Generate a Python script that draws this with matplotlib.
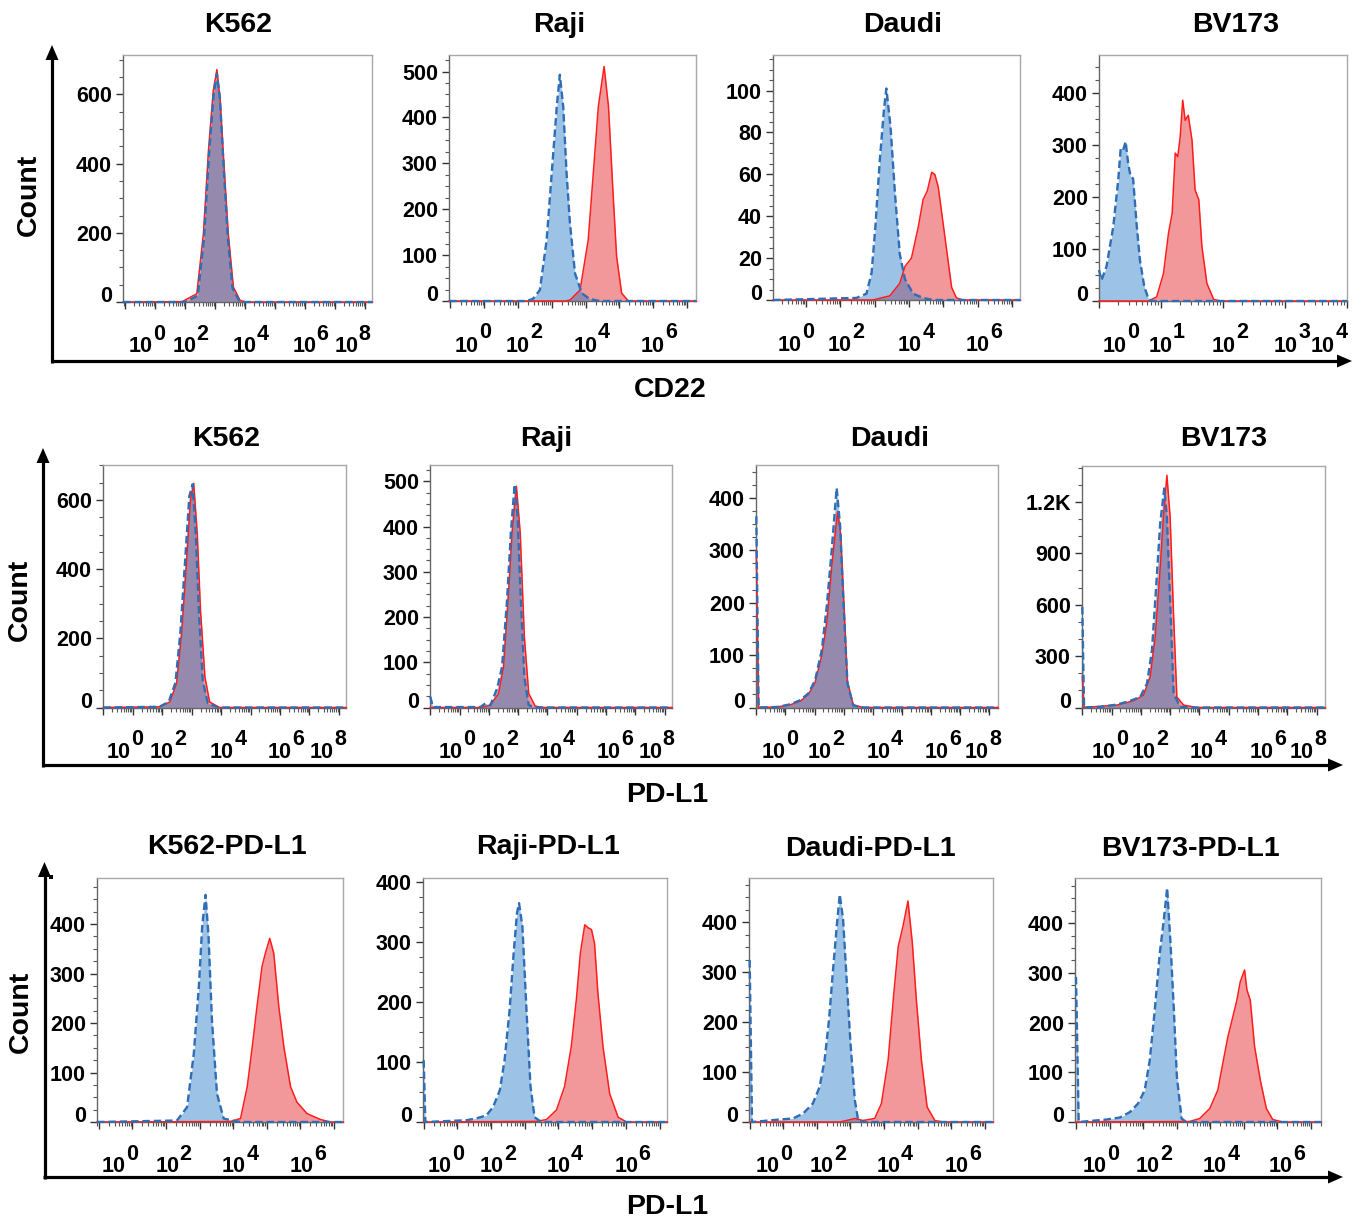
import numpy as np
import matplotlib
matplotlib.use("Agg")
import matplotlib.pyplot as plt
from matplotlib.ticker import FixedLocator, FixedFormatter, MultipleLocator
from matplotlib.patches import Polygon, Rectangle

plt.rcParams['font.family'] = ['Liberation Sans', 'DejaVu Sans']
plt.rcParams['font.weight'] = 'bold'

# ---------------- data (x = log10 fluorescence, y = count) ----------------
# Row 1 : CD22
R1_K562_CTRL_X = [-0.07, 2.0, 2.42, 2.63, 2.80, 2.95, 3.06, 3.16, 3.28, 3.42, 3.58, 3.80, 4.0, 8.23]
R1_K562_CTRL_Y = [0, 0, 18, 185, 430, 600, 660, 590, 400, 190, 40, 4, 0, 0]
R1_K562_STAIN_X = [-0.07, 1.9, 2.39, 2.61, 2.78, 2.94, 3.06, 3.17, 3.30, 3.44, 3.61, 3.83, 4.0, 8.23]
R1_K562_STAIN_Y = [0, 1, 24, 197, 439, 612, 672, 583, 390, 197, 43, 5, 0, 0]

R1_RAJI_CTRL_X = [-0.04, 2.27, 2.45, 2.65, 2.85, 3.0, 3.15, 3.24, 3.34, 3.44, 3.54, 3.69, 3.89, 4.13, 4.43, 7.27]
R1_RAJI_CTRL_Y = [0, 0, 5, 24, 133, 278, 424, 493, 424, 278, 169, 60, 17, 4, 0, 0]
R1_RAJI_STAIN_X = [-0.04, 3.4, 3.54, 3.84, 4.08, 4.23, 4.38, 4.55, 4.68, 4.81, 4.92, 5.07, 5.27, 7.27]
R1_RAJI_STAIN_Y = [0, 0, 2, 24, 133, 278, 424, 511, 424, 242, 97, 17, 0, 0]

R1_DAUDI_CTRL_X = [0.04, 2.47, 2.76, 2.91, 3.02, 3.15, 3.27, 3.34, 3.46, 3.59, 3.73, 3.88, 4.12, 4.41, 4.69, 7.23]
R1_DAUDI_CTRL_Y = [0, 1, 3, 13, 35, 67, 91, 101, 83, 51, 22, 10, 3, 1, 0, 0]
R1_DAUDI_STAIN_X = [0.04, 2.95, 3.44, 3.73, 3.88, 4.07, 4.27, 4.41, 4.53, 4.66, 4.75, 4.85, 4.98, 5.11, 5.24, 5.38, 5.58, 7.23]
R1_DAUDI_STAIN_Y = [0, 0, 2, 8, 16, 20, 35, 48, 52, 61, 60, 54, 38, 22, 6, 1, 0, 0]

R1_BV173_CTRL_X = [0.0, 0.04, 0.12, 0.23, 0.31, 0.35, 0.39, 0.43, 0.47, 0.51, 0.55, 0.61, 0.66, 0.73, 0.80, 0.88, 4.0]
R1_BV173_CTRL_Y = [60, 40, 66, 143, 233, 294, 291, 307, 265, 240, 236, 143, 79, 28, 3, 0, 0]
R1_BV173_STAIN_X = [0.0, 0.80, 0.93, 1.04, 1.12, 1.18, 1.23, 1.27, 1.31, 1.35, 1.39, 1.44, 1.50, 1.55, 1.61, 1.66, 1.74, 1.85, 1.96, 4.0]
R1_BV173_STAIN_Y = [0, 0, 8, 53, 130, 169, 285, 278, 317, 387, 348, 358, 310, 214, 195, 105, 34, 3, 0, 0]

# Row 2 : PD-L1 on parental lines
R2_K562_CTRL_X = [0.0, 1.9, 2.22, 2.45, 2.62, 2.79, 2.92, 3.03, 3.14, 3.25, 3.38, 3.55, 3.9, 8.24]
R2_K562_CTRL_Y = [0, 2, 16, 72, 220, 440, 610, 645, 500, 270, 75, 12, 0, 0]
R2_K562_STAIN_X = [0.0, 1.93, 2.26, 2.49, 2.66, 2.83, 2.96, 3.07, 3.19, 3.30, 3.45, 3.61, 3.95, 8.24]
R2_K562_STAIN_Y = [0, 2, 16, 70, 214, 426, 600, 648, 503, 282, 89, 16, 0, 0]

R2_RAJI_CTRL_X = [0.0, 0.09, 1.71, 1.88, 2.05, 2.28, 2.45, 2.62, 2.75, 2.88, 2.98, 3.09, 3.21, 3.36, 3.64, 8.25]
R2_RAJI_CTRL_Y = [24, 1, 1, 9, 5, 42, 90, 238, 386, 493, 422, 238, 68, 5, 0, 0]
R2_RAJI_STAIN_X = [0.0, 1.71, 2.05, 2.33, 2.50, 2.67, 2.79, 2.94, 3.07, 3.21, 3.36, 3.58, 3.87, 8.25]
R2_RAJI_STAIN_Y = [0, 0, 5, 31, 90, 253, 386, 489, 386, 157, 31, 3, 0, 0]

R2_DAUDI_CTRL_X = [0.0, 0.08, 0.71, 1.16, 1.51, 1.79, 2.02, 2.25, 2.42, 2.59, 2.76, 2.88, 2.99, 3.13, 3.33, 3.67, 8.3]
R2_DAUDI_CTRL_Y = [365, 0, 1, 6, 14, 27, 52, 110, 193, 301, 419, 346, 205, 46, 4, 0, 0]
R2_DAUDI_STAIN_X = [0.0, 0.08, 0.71, 1.16, 1.51, 1.79, 2.02, 2.25, 2.42, 2.59, 2.79, 2.90, 3.0, 3.13, 3.33, 3.67, 8.3]
R2_DAUDI_STAIN_Y = [300, 0, 1, 5, 12, 25, 48, 100, 161, 269, 374, 330, 210, 50, 5, 0, 0]

R2_BV173_CTRL_X = [0.0, 0.06, 0.61, 1.18, 1.64, 1.98, 2.21, 2.38, 2.53, 2.66, 2.80, 2.89, 3.0, 3.12, 3.34, 3.68, 8.29]
R2_BV173_CTRL_Y = [587, 0, 4, 17, 39, 62, 140, 334, 723, 1073, 1278, 1112, 626, 82, 4, 0, 0]
R2_BV173_STAIN_X = [0.0, 0.06, 1.18, 1.75, 2.09, 2.32, 2.49, 2.64, 2.77, 2.89, 3.0, 3.12, 3.23, 3.46, 3.91, 8.29]
R2_BV173_STAIN_Y = [180, 0, 14, 39, 72, 179, 412, 762, 1112, 1355, 1112, 529, 62, 14, 0, 0]

# Row 3 : PD-L1 on engineered lines
R3_K562_CTRL_X = [-0.05, 2.33, 2.63, 2.83, 2.98, 3.08, 3.18, 3.27, 3.37, 3.52, 3.72, 3.97, 4.22, 7.27]
R3_K562_CTRL_Y = [0, 3, 30, 138, 273, 395, 459, 374, 206, 57, 7, 3, 0, 0]
R3_K562_STAIN_X = [-0.05, 3.92, 4.22, 4.42, 4.57, 4.71, 4.86, 4.96, 5.09, 5.21, 5.36, 5.51, 5.71, 5.90, 6.20, 6.60, 6.90, 7.27]
R3_K562_STAIN_Y = [0, 1, 7, 71, 152, 233, 314, 341, 371, 341, 233, 152, 71, 40, 17, 5, 0, 0]

R3_RAJI_CTRL_X = [0.0, 0.05, 1.27, 1.56, 1.86, 2.06, 2.26, 2.40, 2.55, 2.67, 2.77, 2.83, 2.93, 3.05, 3.17, 3.29, 3.49, 7.22]
R3_RAJI_CTRL_Y = [103, 0, 3, 6, 11, 25, 53, 103, 187, 282, 349, 365, 326, 187, 59, 8, 0, 0]
R3_RAJI_STAIN_X = [0.0, 3.34, 3.64, 3.94, 4.18, 4.38, 4.53, 4.65, 4.78, 4.88, 4.98, 5.07, 5.17, 5.32, 5.52, 5.77, 6.02, 7.22]
R3_RAJI_STAIN_Y = [0, 1, 4, 20, 59, 126, 204, 282, 329, 324, 321, 298, 215, 126, 47, 8, 0, 0]

R3_DAUDI_CTRL_X = [0.0, 0.07, 0.89, 1.29, 1.59, 1.88, 2.08, 2.23, 2.36, 2.48, 2.60, 2.68, 2.78, 2.88, 3.0, 3.13, 3.23, 3.38, 7.24]
R3_DAUDI_CTRL_Y = [324, 0, 5, 7, 17, 37, 70, 124, 204, 304, 398, 455, 405, 291, 157, 43, 3, 0, 0]
R3_DAUDI_STAIN_X = [0.0, 2.68, 2.88, 3.13, 3.37, 3.72, 3.92, 4.12, 4.29, 4.42, 4.56, 4.71, 4.84, 4.96, 5.11, 5.28, 5.51, 5.76, 7.24]
R3_DAUDI_STAIN_Y = [0, 0, 3, 7, 3, 7, 37, 124, 258, 351, 391, 442, 358, 244, 124, 30, 3, 0, 0]

R3_BV173_CTRL_X = [0.0, 0.08, 0.91, 1.31, 1.61, 1.85, 2.05, 2.20, 2.35, 2.50, 2.62, 2.72, 2.82, 2.92, 3.01, 3.15, 3.29, 7.31]
R3_BV173_CTRL_Y = [292, 0, 5, 9, 20, 37, 64, 124, 225, 340, 407, 471, 360, 225, 91, 7, 0, 0]
R3_BV173_STAIN_X = [0.0, 3.39, 3.69, 3.99, 4.23, 4.38, 4.53, 4.68, 4.80, 4.90, 5.03, 5.10, 5.20, 5.33, 5.50, 5.68, 5.87, 6.17, 7.31]
R3_BV173_STAIN_Y = [0, 1, 7, 27, 64, 118, 171, 212, 245, 282, 306, 266, 245, 151, 84, 27, 5, 0, 0]

# tick labels
EXP_8 = ['0', '2', '4', '6', '8']
EXP_6 = ['0', '2', '4', '6']
EXP_BV = ['0', '1', '2', '3', '4']
YT_600 = [0, 200, 400, 600]
YT_500 = [0, 100, 200, 300, 400, 500]
YT_100 = [0, 20, 40, 60, 80, 100]
YT_400 = [0, 100, 200, 300, 400]
YT_1200 = [0, 300, 600, 900, 1200]
YL_1200 = ['0', '300', '600', '900', '1.2K']

ROW_TITLES = [['K562', 'Raji', 'Daudi', 'BV173'],
              ['K562', 'Raji', 'Daudi', 'BV173'],
              ['K562-PD-L1', 'Raji-PD-L1', 'Daudi-PD-L1', 'BV173-PD-L1']]
ROW_XLABELS = ['CD22', 'PD-L1', 'PD-L1']
YLABEL = 'Count'

# ---------------- layout (pixels) ----------------
W, H = 1357, 1220
PANELS = [
    dict(title=ROW_TITLES[0][0], tpos=(238, 25), box=(123, 372, 55, 302), xlim=(-0.07, 8.23), ylim=(0, 714),
         yt=YT_600, yl=None, ym=50, exps=EXP_8, lpos=[0.53, 1.97, 3.97, 5.97, 7.37],
         ctrl=(R1_K562_CTRL_X, R1_K562_CTRL_Y), stain=(R1_K562_STAIN_X, R1_K562_STAIN_Y)),
    dict(title=ROW_TITLES[0][1], tpos=(559, 25), box=(449, 696, 55, 301), xlim=(-0.04, 7.27), ylim=(0, 536),
         yt=YT_500, yl=None, ym=25, exps=EXP_6, lpos=[0.49, 2.0, 3.99, 6.0],
         ctrl=(R1_RAJI_CTRL_X, R1_RAJI_CTRL_Y), stain=(R1_RAJI_STAIN_X, R1_RAJI_STAIN_Y)),
    dict(title=ROW_TITLES[0][2], tpos=(903, 25), box=(773, 1020, 55, 300), xlim=(0.04, 7.23), ylim=(0, 117),
         yt=YT_100, yl=None, ym=5, exps=EXP_6, lpos=[0.52, 1.98, 4.02, 6.01],
         ctrl=(R1_DAUDI_CTRL_X, R1_DAUDI_CTRL_Y), stain=(R1_DAUDI_STAIN_X, R1_DAUDI_STAIN_Y)),
    dict(title=ROW_TITLES[0][3], tpos=(1236, 25), box=(1099, 1347, 55, 301), xlim=(0.0, 4.0), ylim=(0, 474),
         yt=YT_400, yl=None, ym=25, exps=EXP_BV, lpos=[0.25, 0.99, 2.01, 3.01, 3.61],
         ctrl=(R1_BV173_CTRL_X, R1_BV173_CTRL_Y), stain=(R1_BV173_STAIN_X, R1_BV173_STAIN_Y)),

    dict(title=ROW_TITLES[1][0], tpos=(226, 439), box=(103, 346, 465, 707.5), xlim=(-0.01, 8.24), ylim=(0, 701),
         yt=YT_600, yl=None, ym=50, exps=EXP_8, lpos=[0.52, 1.99, 4.02, 6.0, 7.41],
         ctrl=(R2_K562_CTRL_X, R2_K562_CTRL_Y), stain=(R2_K562_STAIN_X, R2_K562_STAIN_Y)),
    dict(title=ROW_TITLES[1][1], tpos=(546, 439), box=(430, 672, 465, 707.5), xlim=(-0.01, 8.25), ylim=(0, 536),
         yt=YT_500, yl=None, ym=25, exps=EXP_8, lpos=[0.68, 2.16, 4.10, 6.09, 7.51],
         ctrl=(R2_RAJI_CTRL_X, R2_RAJI_CTRL_Y), stain=(R2_RAJI_STAIN_X, R2_RAJI_STAIN_Y)),
    dict(title=ROW_TITLES[1][2], tpos=(890, 439), box=(756, 998, 465, 707.5), xlim=(-0.01, 8.3), ylim=(0, 463),
         yt=YT_400, yl=None, ym=25, exps=EXP_8, lpos=[0.59, 2.19, 4.19, 6.19, 7.56],
         ctrl=(R2_DAUDI_CTRL_X, R2_DAUDI_CTRL_Y), stain=(R2_DAUDI_STAIN_X, R2_DAUDI_STAIN_Y)),
    dict(title=ROW_TITLES[1][3], tpos=(1224, 439), box=(1082, 1325, 466, 707.5), xlim=(-0.01, 8.29), ylim=(0, 1409),
         yt=YT_1200, yl=YL_1200, ym=100, exps=EXP_8, lpos=[0.73, 2.09, 4.09, 6.13, 7.50],
         ctrl=(R2_BV173_CTRL_X, R2_BV173_CTRL_Y), stain=(R2_BV173_STAIN_X, R2_BV173_STAIN_Y)),

    dict(title=ROW_TITLES[2][0], tpos=(227, 847), box=(97, 343, 878, 1122), xlim=(-0.05, 7.27), ylim=(0, 493),
         yt=YT_400, yl=None, ym=25, exps=EXP_6, lpos=[0.45, 2.04, 4.02, 6.05],
         ctrl=(R3_K562_CTRL_X, R3_K562_CTRL_Y), stain=(R3_K562_STAIN_X, R3_K562_STAIN_Y)),
    dict(title=ROW_TITLES[2][1], tpos=(548, 847), box=(423, 667, 878, 1122), xlim=(-0.02, 7.22), ylim=(0, 407),
         yt=YT_400, yl=None, ym=25, exps=EXP_6, lpos=[0.47, 2.01, 3.99, 6.01],
         ctrl=(R3_RAJI_CTRL_X, R3_RAJI_CTRL_Y), stain=(R3_RAJI_STAIN_X, R3_RAJI_STAIN_Y)),
    dict(title=ROW_TITLES[2][2], tpos=(870, 849), box=(749, 993, 878, 1122), xlim=(-0.02, 7.24), ylim=(0, 488),
         yt=YT_400, yl=None, ym=25, exps=EXP_6, lpos=[0.54, 2.13, 4.12, 6.15],
         ctrl=(R3_DAUDI_CTRL_X, R3_DAUDI_CTRL_Y), stain=(R3_DAUDI_STAIN_X, R3_DAUDI_STAIN_Y)),
    dict(title=ROW_TITLES[2][3], tpos=(1190, 849), box=(1075, 1321, 878, 1122), xlim=(-0.03, 7.31), ylim=(0, 491),
         yt=YT_400, yl=None, ym=25, exps=EXP_6, lpos=[0.57, 2.15, 4.14, 6.12],
         ctrl=(R3_BV173_CTRL_X, R3_BV173_CTRL_Y), stain=(R3_BV173_STAIN_X, R3_BV173_STAIN_Y)),
]

ROWS = [
    dict(vx=52, hy=361, top=45, right=1352, ylab=(29, 195), xlab=(670, 390)),
    dict(vx=43, hy=765, top=448, right=1343, ylab=(20, 600), xlab=(667, 795)),
    dict(vx=44.5, hy=1177, top=862, right=1343, ylab=(21, 1012), xlab=(667, 1207)),
]

BLUE_FILL = (37 / 255, 122 / 255, 199 / 255)
RED_FILL = (231 / 255, 51 / 255, 55 / 255)
BLUE_LINE = '#2f6db5'
RED_LINE = '#ff1c1c'
PX2PT = 0.72
TICK_FS = 15.5

fig = plt.figure(figsize=(W / 100, H / 100), dpi=100)

bg = fig.add_axes([0, 0, 1, 1])
bg.set_xlim(0, W)
bg.set_ylim(H, 0)
bg.axis('off')

for r, row in enumerate(ROWS):
    vx, hy, top, right = row['vx'], row['hy'], row['top'], row['right']
    bg.plot([vx, vx], [hy + 1.5, top + 12], color='black', lw=2.3, solid_capstyle='butt')
    bg.plot([vx - 1.5, right - 12], [hy, hy], color='black', lw=2.3, solid_capstyle='butt')
    bg.add_patch(Polygon([[vx, top], [vx - 6.5, top + 15], [vx + 6.5, top + 15]], closed=True,
                         color='black', lw=0))
    bg.add_patch(Polygon([[right, hy], [right - 15, hy - 6.5], [right - 15, hy + 6.5]], closed=True,
                         color='black', lw=0))
    bg.text(row['ylab'][0], row['ylab'][1], YLABEL, rotation=90, ha='center', va='center',
            fontsize=20.5, fontweight='bold')
    bg.text(row['xlab'][0], row['xlab'][1], ROW_XLABELS[r], ha='center', va='center',
            fontsize=20.5, fontweight='bold')
bg.add_patch(Rectangle((49, 875), 4, 4, color='black', lw=0))

for p in PANELS:
    L, R, T, B = p['box']
    ax = fig.add_axes([L / W, 1 - B / H, (R - L) / W, (B - T) / H])
    ax.set_xlim(*p['xlim'])
    ax.set_ylim(*p['ylim'])
    sx, sy = p['stain']
    cx, cy = p['ctrl']
    ax.fill_between(sx, sy, 0, color=RED_FILL, alpha=0.5, lw=0, zorder=2)
    ax.fill_between(cx, cy, 0, color=BLUE_FILL, alpha=0.45, lw=0, zorder=2.1)
    ax.plot(sx, sy, color=RED_LINE, lw=1.1, zorder=3, clip_on=False)
    ax.plot(cx, cy, color=BLUE_LINE, lw=1.7, dashes=(3.2, 1.6), zorder=3.1, clip_on=False)

    for side in ('top', 'right'):
        ax.spines[side].set_color('#a8a8a8')
        ax.spines[side].set_linewidth(1.0)
    for side in ('left', 'bottom'):
        ax.spines[side].set_color('#666666')
        ax.spines[side].set_linewidth(1.0)

    ax.yaxis.set_major_locator(FixedLocator(p['yt']))
    labels = p['yl'] if p['yl'] is not None else [str(v) for v in p['yt']]
    ax.yaxis.set_major_formatter(FixedFormatter(labels))
    ax.yaxis.set_minor_locator(MultipleLocator(p['ym']))
    ax.tick_params(axis='y', which='major', length=5, width=1.0, color='#333333', pad=3,
                   labelsize=TICK_FS, labelcolor='black')
    ax.tick_params(axis='y', which='minor', length=2.6, width=0.8, color='#555555')
    for lab in ax.get_yticklabels():
        lab.set_fontweight('bold')
    ax.yaxis.get_major_ticks()[0].label1.set_verticalalignment('baseline')

    x0, x1 = p['xlim']
    majors = [d for d in range(-1, 10) if x0 - 1e-6 <= d <= x1 + 1e-6]
    minors = [d + np.log10(k) for d in range(-1, 10) for k in range(2, 10)
              if x0 <= d + np.log10(k) <= x1]
    ax.xaxis.set_major_locator(FixedLocator(majors))
    ax.xaxis.set_minor_locator(FixedLocator(minors))
    ax.tick_params(axis='x', which='major', length=5, width=1.0, color='#333333', labelbottom=False)
    ax.tick_params(axis='x', which='minor', length=2.6, width=0.8, color='#555555')

    for e, pos in zip(p['exps'], p['lpos']):
        ax.annotate('10', xy=(pos, 0), xycoords=('data', 'axes fraction'),
                    xytext=(0, -45 * PX2PT), textcoords='offset points',
                    ha='center', va='center', fontsize=TICK_FS, fontweight='bold', annotation_clip=False)
        ax.annotate(e, xy=(pos, 0), xycoords=('data', 'axes fraction'),
                    xytext=(12.5 * PX2PT, -32 * PX2PT), textcoords='offset points',
                    ha='left', va='center', fontsize=TICK_FS, fontweight='bold', annotation_clip=False)

    bg.text(p['tpos'][0], p['tpos'][1], p['title'], ha='center', va='center',
            fontsize=20.5, fontweight='bold')

fig.savefig('out.png', dpi=100)
